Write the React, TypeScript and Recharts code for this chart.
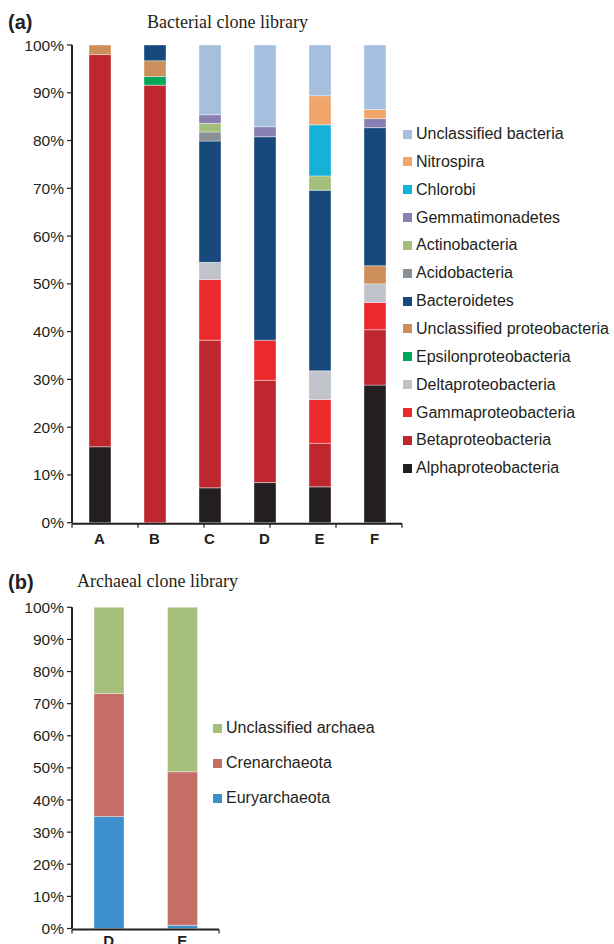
import React from "react";
import { BarChart, Bar, XAxis, YAxis } from "recharts";

// ---- data (percent of clones) ----
const sites = ["A", "B", "C", "D", "E", "F"];

// bottom-to-top stacking order
const bacteriaTaxa = [
  "Alphaproteobacteria",
  "Betaproteobacteria",
  "Gammaproteobacteria",
  "Deltaproteobacteria",
  "Epsilonproteobacteria",
  "Unclassified proteobacteria",
  "Bacteroidetes",
  "Acidobacteria",
  "Actinobacteria",
  "Gemmatimonadetes",
  "Chlorobi",
  "Nitrospira",
  "Unclassified bacteria",
];

const alpha = [15.9, 0, 7.3, 8.4, 7.5, 28.8];
const beta = [82.1, 91.6, 30.9, 21.4, 9.1, 11.6];
const gamma = [0, 0, 12.7, 8.4, 9.2, 5.7];
const delta = [0, 0, 3.6, 0, 6.0, 3.9];
const epsilon = [0, 1.8, 0, 0, 0, 0];
const unclProteo = [2.0, 3.3, 0, 0, 0, 3.8];
const bacteroidetes = [0, 3.3, 25.4, 42.6, 37.8, 28.9];
const acido = [0, 0, 1.9, 0, 0, 0];
const actino = [0, 0, 1.8, 0, 3.0, 0];
const gemma = [0, 0, 1.8, 2.1, 0, 1.9];
const chlorobi = [0, 0, 0, 0, 10.7, 0];
const nitrospira = [0, 0, 0, 0, 6.1, 1.9];
const unclBacteria = [0, 0, 14.6, 17.1, 10.6, 13.5];

const bacteriaValues = [
  alpha, beta, gamma, delta, epsilon, unclProteo, bacteroidetes,
  acido, actino, gemma, chlorobi, nitrospira, unclBacteria,
];

const bacteriaColors = [
  "#231f20", "#bf272e", "#ec2a2e", "#c0c3c9", "#00a65a", "#cc8e5a",
  "#17497c", "#8a9196", "#a3bf7a", "#8a7fb2", "#15b1d9", "#f0a56a", "#a7bfdf",
];

const archaeaSites = ["D", "E"];
const archaeaTaxa = ["Euryarchaeota", "Crenarchaeota", "Unclassified archaea"];
const eury = [34.9, 1.0];
const cren = [38.3, 47.8];
const unclArchaea = [26.8, 51.2];
const archaeaValues = [eury, cren, unclArchaea];
const archaeaColors = ["#3b8fcc", "#c46e66", "#a5bf7b"];

const percentTicks = [0, 10, 20, 30, 40, 50, 60, 70, 80, 90, 100];

function buildRows(cats: string[], taxa: string[], values: number[][]) {
  return cats.map((c, i) => {
    const row: Record<string, string | number> = { site: c };
    taxa.forEach((t, j) => {
      row[t] = values[j][i];
    });
    return row;
  });
}

const bacteriaData = buildRows(sites, bacteriaTaxa, bacteriaValues);
const archaeaData = buildRows(archaeaSites, archaeaTaxa, archaeaValues);

const INK = "#231f20";
const SANS = "'Liberation Sans', Arial, sans-serif";
const SERIF = "'Liberation Serif', 'Times New Roman', serif";

function StackedPanel({
  data,
  cats,
  taxa,
  colors,
  width,
  height,
  margin,
  barSize,
  labelGap,
}: {
  data: Record<string, string | number>[];
  cats: string[];
  taxa: string[];
  colors: string[];
  width: number;
  height: number;
  margin: { top: number; right: number; bottom: number; left: number };
  barSize: number;
  labelGap: number;
}) {
  const edgeTicks = Array.from({ length: cats.length + 1 }, (_, i) => i);
  return (
    <BarChart width={width} height={height} data={data} margin={margin} barCategoryGap={0}>
      {/* axis line + ticks between categories */}
      <XAxis
        xAxisId="edges"
        type="number"
        domain={[0, cats.length]}
        ticks={edgeTicks}
        allowDataOverflow
        height={1}
        tickFormatter={() => ""}
        axisLine={{ stroke: INK, strokeWidth: 2 }}
        tickLine={{ stroke: INK, strokeWidth: 1.2 }}
        tickSize={4}
      />
      <XAxis
        dataKey="site"
        height={1}
        axisLine={false}
        tickLine={false}
        tickSize={6}
        tickMargin={labelGap}
        interval={0}
        tick={{ fill: INK, fontSize: 15, fontWeight: 700, fontFamily: SANS }}
      />
      <YAxis
        width={72}
        domain={[0, 100]}
        ticks={percentTicks}
        interval={0}
        tickFormatter={(v) => `${v}%`}
        axisLine={{ stroke: INK, strokeWidth: 2 }}
        tickLine={{ stroke: INK, strokeWidth: 1.2 }}
        tickSize={5}
        tickMargin={3}
        tick={{ fill: INK, fontSize: 15.5, fontFamily: SANS }}
      />
      {taxa.map((t, j) => (
        <Bar
          key={t}
          dataKey={t}
          stackId="s"
          fill={colors[j]}
          stroke="#ffffff"
          strokeOpacity={0.55}
          strokeWidth={0.7}
          barSize={barSize}
          isAnimationActive={false}
        />
      ))}
    </BarChart>
  );
}

function LegendList({
  taxa,
  colors,
  left,
  top,
  step,
}: {
  taxa: string[];
  colors: string[];
  left: number;
  top: number;
  step: number;
}) {
  const items = taxa.map((t, j) => ({ t, c: colors[j] })).reverse();
  return (
    <>
      {items.map((it, i) => (
        <div
          key={it.t}
          style={{
            position: "absolute",
            left,
            top: top + i * step - 10,
            height: 20,
            display: "flex",
            alignItems: "center",
            whiteSpace: "nowrap",
            fontFamily: SANS,
            fontSize: 16,
            color: INK,
          }}
        >
          <span style={{ width: 9, height: 9, background: it.c, marginRight: 4 }} />
          {it.t}
        </div>
      ))}
    </>
  );
}

export default function App() {
  return (
    <div
      style={{
        position: "absolute",
        left: 0,
        top: 0,
        width: 614,
        height: 944,
        overflow: "hidden",
        background: "#fff",
      }}
    >
      <svg width={614} height={944} style={{ position: "absolute", left: 0, top: 0 }}>
        <text x={8} y={29} fontFamily={SANS} fontWeight={700} fontSize={20} fill={INK}>
          (a)
        </text>
        <text x={147} y={28} fontFamily={SERIF} fontSize={18} fill={INK}>
          Bacterial clone library
        </text>
        <text x={8} y={589} fontFamily={SANS} fontWeight={700} fontSize={20} fill={INK}>
          (b)
        </text>
        <text x={77} y={587} fontFamily={SERIF} fontSize={18} fill={INK}>
          Archaeal clone library
        </text>
      </svg>

      <div style={{ position: "absolute", left: 0, top: 0 }}>
        <StackedPanel
          data={bacteriaData}
          cats={sites}
          taxa={bacteriaTaxa}
          colors={bacteriaColors}
          width={410}
          height={560}
          margin={{ top: 45, right: 8, bottom: 35.3, left: 0 }}
          barSize={22}
          labelGap={5}
        />
      </div>
      <LegendList taxa={bacteriaTaxa} colors={bacteriaColors} left={403} top={134} step={27.85} />

      <div style={{ position: "absolute", left: 0, top: 560 }}>
        <StackedPanel
          data={archaeaData}
          cats={archaeaSites}
          taxa={archaeaTaxa}
          colors={archaeaColors}
          width={227}
          height={384}
          margin={{ top: 47.3, right: 8, bottom: 13.5, left: 0 }}
          barSize={30}
          labelGap={1}
        />
      </div>
      <LegendList taxa={archaeaTaxa} colors={archaeaColors} left={213} top={728} step={35} />
    </div>
  );
}
